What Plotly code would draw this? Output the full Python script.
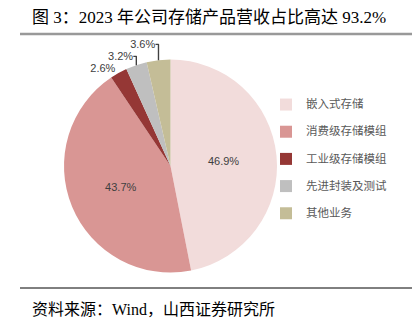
import plotly.graph_objects as go

categories = ["嵌入式存储", "消费级存储模组", "工业级存储模组", "先进封装及测试", "其他业务"]
shares = [46.9, 43.7, 2.6, 3.2, 3.6]
colors = ["#F2DCDB", "#D99694", "#953735", "#BFBFBF", "#C4BD97"]
text_pos = ["inside", "inside", "outside", "outside", "outside"]

title_text = "图 3：2023 年公司存储产品营收占比高达 93.2%"
source_text = "资料来源：Wind，山西证券研究所"

W, H = 415, 334

legend_labels = [f"<span style='font-size:11.5px'>{c}</span><br> " for c in categories]

fig = go.Figure(go.Pie(
    labels=legend_labels,
    values=shares,
    sort=False,
    direction="clockwise",
    rotation=0,
    marker=dict(colors=colors, line=dict(width=0)),
    textposition=text_pos,
    texttemplate="%{value:.1f}%",
    insidetextorientation="horizontal",
    textfont=dict(family="Liberation Sans, Noto Sans CJK SC", size=11, color="#404040"),
    outsidetextfont=dict(family="Liberation Sans, Noto Sans CJK SC", size=11, color="#404040"),
    hoverinfo="label+percent",
    domain=dict(x=[64 / W, 277 / W], y=[1 - 273 / H, 1 - 59 / H]),
))

fig.update_layout(
    width=W, height=H,
    margin=dict(l=0, r=0, t=0, b=0),
    paper_bgcolor="white",
    plot_bgcolor="white",
    showlegend=True,
    legend=dict(
        x=266 / W, y=1 - 92 / H, xanchor="left", yanchor="top",
        font=dict(family="Noto Sans CJK SC", size=9.3, color="#595959"),
        valign="top",
        bgcolor="rgba(0,0,0,0)",
    ),
    shapes=[
        dict(type="line", xref="paper", yref="paper", x0=20 / W, x1=412 / W,
             y0=1 - 34 / H, y1=1 - 34 / H, line=dict(color="#999999", width=2.5)),
        dict(type="line", xref="paper", yref="paper", x0=20 / W, x1=412 / W,
             y0=1 - 288 / H, y1=1 - 288 / H, line=dict(color="#000000", width=1)),
    ],
    annotations=[
        dict(text=title_text, xref="paper", yref="paper", x=30 / W, y=1 - 17 / H,
             xanchor="left", yanchor="middle", showarrow=False,
             font=dict(family="Liberation Serif, Noto Sans CJK SC", size=17, color="#000000")),
        dict(text=source_text, xref="paper", yref="paper", x=30 / W, y=1 - 309 / H,
             xanchor="left", yanchor="middle", showarrow=False,
             font=dict(family="Liberation Serif, Noto Sans CJK SC", size=16, color="#000000")),
    ],
)

fig.write_html("out.html")
